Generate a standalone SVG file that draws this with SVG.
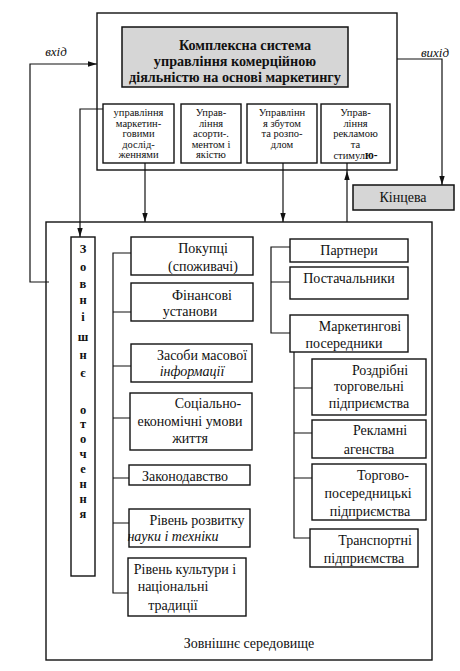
<svg xmlns="http://www.w3.org/2000/svg" width="460" height="671" viewBox="0 0 460 671">
<style>
.b{fill:none;stroke:#111;stroke-width:1.4}
.g{fill:#d6d6d6;stroke:#111;stroke-width:1.5}
.c{fill:none;stroke:#111;stroke-width:1.2}
.t{font-size:14px;text-anchor:middle;fill:#111}
.s{font-size:10.5px;text-anchor:middle;fill:#111}
.h{font-size:14.2px;font-weight:bold;text-anchor:middle;fill:#111}
.v{font-size:12.5px;font-weight:bold;text-anchor:middle;fill:#111}
.i{font-style:italic}
.l{font-style:italic;font-size:13px;text-anchor:middle;fill:#111}
</style>
<defs>
<marker id="ah" viewBox="0 0 10 6" refX="10" refY="3" markerWidth="9" markerHeight="5.4" orient="auto" markerUnits="userSpaceOnUse">
<path d="M0,0 L10,3 L0,6 z" fill="#111"/>
</marker>
</defs>
<rect width="460" height="671" fill="#fff"/>
<g font-family="Liberation Serif">

<g id="connectors">
<path class="c" d="M49,282 H30 V64 H97" marker-end="url(#ah)"/>
<path class="c" d="M103,109 H80 V237" marker-end="url(#ah)"/>
<path class="c" d="M145,163 V222" marker-end="url(#ah)"/>
<path class="c" d="M283,163 V222" marker-end="url(#ah)"/>
<path class="c" d="M347,222 V171" marker-end="url(#ah)"/>
<path class="c" d="M347,171 V163"/>
<path class="c" d="M397,59 H442 V185" marker-end="url(#ah)"/>
<path class="c" d="M131,253 H113 V593 H128 M113,312 H131 M113,366 H131 M113,418 H130 M113,478 H129 M113,523 H129"/>
<path class="c" d="M290,247 H271 V333 H290 M271,282 H290"/>
<path class="c" d="M294,352 V538 H310 M294,388 H312 M294,433 H312 M294,478 H312"/>
</g>

<g id="labels-io">
<text class="l" x="56" y="56">вхід</text>
<text class="l" x="435" y="57">вихід</text>
</g>

<g id="system">
<rect class="b" x="97" y="13" width="300" height="157"/>
</g>
<g id="title">
<rect class="g" x="122" y="27" width="226" height="60"/>
<text class="h" x="245" y="49.5">Комплексна система</text>
<text class="h" x="235" y="66">управління комерційною</text>
<text class="h" x="235" y="81.5">діяльністю на основі маркетингу</text>
</g>
<g id="sub1">
<rect class="b" x="103" y="104" width="71" height="59"/>
<text class="s" x="138.5" y="116">управління</text>
<text class="s" x="138.5" y="126.5">маркетин-</text>
<text class="s" x="138.5" y="137">говими</text>
<text class="s" x="138.5" y="147.5">дослід-</text>
<text class="s" x="138.5" y="158">женнями</text>
</g>
<g id="sub2">
<rect class="b" x="181" y="104" width="60" height="59"/>
<text class="s" x="211" y="116">Управ-</text>
<text class="s" x="211" y="126.5">ління</text>
<text class="s" x="211" y="137">асорти-.</text>
<text class="s" x="211" y="147.5">ментом і</text>
<text class="s" x="211" y="158">якістю</text>
</g>
<g id="sub3">
<rect class="b" x="247" y="104" width="70" height="59"/>
<text class="s" x="282" y="116">Управлінн</text>
<text class="s" x="282" y="126.5">я збутом</text>
<text class="s" x="282" y="137">та розпо-</text>
<text class="s" x="282" y="147.5">длом</text>
</g>
<g id="sub4">
<rect class="b" x="321" y="104" width="69" height="59"/>
<text class="s" x="355.5" y="116">Управ-</text>
<text class="s" x="355.5" y="126.5">ління</text>
<text class="s" x="355.5" y="137">рекламою</text>
<text class="s" x="355.5" y="147.5">та</text>
<text class="s" x="355.5" y="158.5">стимул<tspan font-weight="bold" font-size="11.5">ю-</tspan></text>
</g>
<g id="final">
<rect class="g" x="353" y="185" width="101" height="25"/>
<text class="t" x="403" y="202">Кінцева</text>
</g>

<g id="environment">
<rect class="b" x="46" y="222" width="386" height="438"/>
<text class="t" x="249" y="647.5">Зовнішнє середовище</text>
</g>

<g id="surroundings">
<rect class="b" x="71" y="237" width="24" height="339"/>
<text class="v" x="83" y="253" font-size="15">З</text>
<text class="v" x="83" y="270.7">о</text>
<text class="v" x="83" y="288">в</text>
<text class="v" x="83" y="304">н</text>
<text class="v" x="83" y="321">і</text>
<text class="v" x="83" y="340.7">ш</text>
<text class="v" x="83" y="359">н</text>
<text class="v" x="83" y="377">є</text>
<text class="v" x="83" y="414">о</text>
<text class="v" x="83" y="428">т</text>
<text class="v" x="83" y="443">о</text>
<text class="v" x="83" y="458">ч</text>
<text class="v" x="83" y="473">е</text>
<text class="v" x="83" y="488">н</text>
<text class="v" x="83" y="503">н</text>
<text class="v" x="83" y="518">я</text>
</g>

<g id="buyers">
<rect class="b" x="131" y="237" width="122" height="38"/>
<text class="t" x="203" y="252.5">Покупці</text>
<text class="t" x="203" y="271">(споживачі)</text>
</g>
<g id="finance">
<rect class="b" x="131" y="283" width="122" height="38"/>
<text class="t" x="202" y="299.5">Фінансові</text>
<text class="t" x="190" y="316">установи</text>
</g>
<g id="media">
<rect class="b" x="131" y="344" width="121" height="38"/>
<text class="t" x="202" y="359.5">Засоби масової</text>
<text class="t i" x="192" y="376">інформації</text>
</g>
<g id="social">
<rect class="b" x="130" y="393" width="122" height="57"/>
<text class="t" x="208" y="407.5">Соціально-</text>
<text class="t" x="190" y="426">економічні умови</text>
<text class="t" x="190" y="443">життя</text>
</g>
<g id="law">
<rect class="b" x="129" y="465" width="121" height="20"/>
<text class="t" x="185" y="481">Законодавство</text>
</g>
<g id="science">
<rect class="b" x="129" y="509" width="121" height="38"/>
<text class="t" x="197" y="524.5">Рівень розвитку</text>
<text class="t i" x="173" y="540.5">науки і техніки</text>
</g>
<g id="culture">
<rect class="b" x="128" y="558" width="118" height="58"/>
<text class="t" x="185" y="574">Рівень культури і</text>
<text class="t" x="173" y="590.5">національні</text>
<text class="t" x="173" y="609.5">традиції</text>
</g>

<g id="partners">
<rect class="b" x="290" y="239" width="118" height="23"/>
<text class="t" x="349" y="254.5">Партнери</text>
</g>
<g id="suppliers">
<rect class="b" x="290" y="267" width="118" height="32"/>
<text class="t" x="349" y="283">Постачальники</text>
</g>
<g id="intermediaries">
<rect class="b" x="290" y="315" width="118" height="37"/>
<text class="t" x="360" y="330.5">Маркетингові</text>
<text class="t" x="344" y="347.5">посередники</text>
</g>
<g id="retail">
<rect class="b" x="312" y="359" width="114" height="56"/>
<text class="t" x="380" y="374.5">Роздрібні</text>
<text class="t" x="369" y="391">торговельні</text>
<text class="t" x="369" y="408">підприємства</text>
</g>
<g id="advertising">
<rect class="b" x="312" y="420" width="114" height="38"/>
<text class="t" x="380" y="434.5">Рекламні</text>
<text class="t" x="369" y="453.5">агенства</text>
</g>
<g id="trade">
<rect class="b" x="312" y="464" width="114" height="56"/>
<text class="t" x="383" y="479.5">Торгово-</text>
<text class="t" x="368" y="498">посередницькі</text>
<text class="t" x="370" y="516">підприємства</text>
</g>
<g id="transport">
<rect class="b" x="310" y="529" width="108" height="38"/>
<text class="t" x="375" y="544.5">Транспортні</text>
<text class="t" x="364" y="562.5">підприємства</text>
</g>
</g>
</svg>
